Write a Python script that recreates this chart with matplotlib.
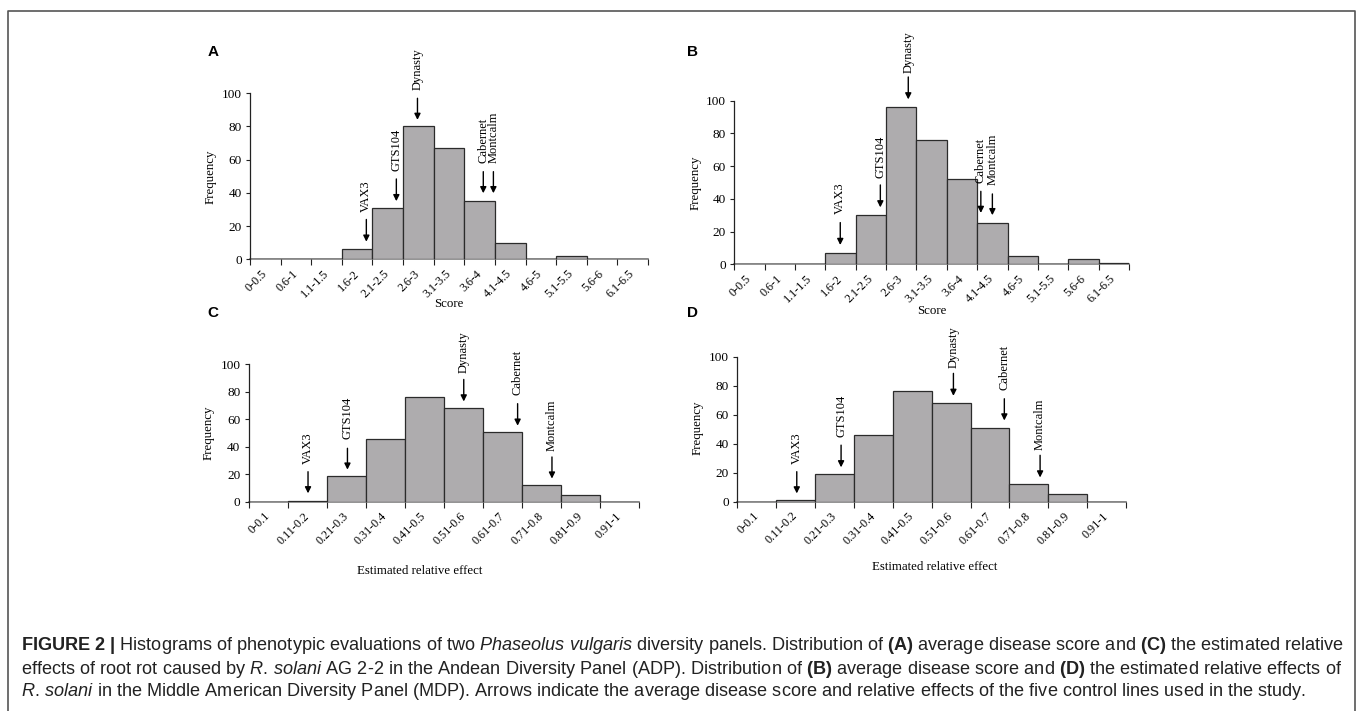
import numpy as np
import matplotlib
matplotlib.use("Agg")
import matplotlib.pyplot as plt

plt.rcParams['font.family'] = ['Liberation Serif', 'DejaVu Serif']
plt.rcParams['mathtext.fontset'] = 'custom'
plt.rcParams['mathtext.rm'] = 'Liberation Sans'
plt.rcParams['mathtext.it'] = 'Liberation Sans:italic'
plt.rcParams['mathtext.bf'] = 'Liberation Sans:bold'

# ---------------- data ----------------
score_bins = ["0-0.5", "0.6-1", "1.1-1.5", "1.6-2", "2.1-2.5", "2.6-3", "3.1-3.5",
              "3.6-4", "4.1-4.5", "4.6-5", "5.1-5.5", "5.6-6", "6.1-6.5"]
effect_bins = ["0-0.1", "0.11-0.2", "0.21-0.3", "0.31-0.4", "0.41-0.5", "0.51-0.6",
               "0.61-0.7", "0.71-0.8", "0.81-0.9", "0.91-1"]

freq_A = [0, 0, 0, 6, 31, 80, 67, 35, 10, 0, 2, 0, 0]
freq_B = [0, 0, 0, 7, 30, 96, 76, 52, 25, 5, 0, 3, 1]
freq_C = [0, 1, 19, 46, 76, 68, 51, 12, 5, 0]
freq_D = [0, 1, 19, 46, 76, 68, 51, 12, 5, 0]

controls = ["VAX3", "GTS104", "Dynasty", "Cabernet", "Montcalm"]
# control position on the bin axis, arrow tail, arrow tip, label bottom
ctrl_x_A = [3.80, 4.78, 5.47, 7.62, 7.95]
ctrl_tail_A = [24, 48.4, 97, 52.8, 52.8]
ctrl_tip_A = [10.6, 35, 84, 39.8, 39.8]
ctrl_lab_A = [28.7, 53, 102, 57.8, 57.8]

ctrl_x_B = [3.49, 4.81, 5.73, 8.12, 8.50]
ctrl_tail_B = [25.5, 48.5, 114.5, 44.6, 43]
ctrl_tip_B = [11.8, 34.8, 100.8, 31.4, 30]
ctrl_lab_B = [30.5, 53, 116.7, 49.9, 48.5]

ctrl_x_C = [1.52, 2.53, 5.51, 6.89, 7.77]
ctrl_tail_C = [22, 39, 89, 71.4, 32.7]
ctrl_tip_C = [6.3, 23.5, 73, 55.4, 17]
ctrl_lab_C = [27.6, 45.5, 94, 77.7, 37]

ctrl_x_D = [1.53, 2.67, 5.56, 6.87, 7.79]
ctrl_tail_D = [20.7, 39, 88.5, 71, 32]
ctrl_tip_D = [5.7, 23.7, 73, 56, 16.7]
ctrl_lab_D = [26, 44.4, 92.4, 77, 35.6]

yticks = [0, 20, 40, 60, 80, 100]

# ---------------- figure ----------------
W, H = 1358, 711
fig = plt.figure(figsize=(W / 100, H / 100), dpi=100)

def px_axes(l, r, b, t):
    return fig.add_axes([l / W, 1 - b / H, (r - l) / W, (b - t) / H])

def ftext(x, y, s, **kw):
    fig.text(x / W, 1 - y / H, s, **kw)

BAR_FC = "#aeacae"
BAR_EC = "#2b2b2b"

def panel(rect, labels, freqs, cx, ctail, ctip, clab, ylab_xy):
    ax = px_axes(*rect)
    n = len(labels)
    x = np.arange(n) + 0.5
    ax.bar(x, freqs, width=1.0, color=BAR_FC, edgecolor=BAR_EC, linewidth=0.9, zorder=2)
    ax.set_xlim(0, n)
    ax.set_ylim(0, 100)
    for s in ["top", "right"]:
        ax.spines[s].set_visible(False)
    ax.spines["left"].set_color("#222222")
    ax.spines["left"].set_linewidth(0.9)
    ax.spines["bottom"].set_color("#8a8a8a")
    ax.spines["bottom"].set_linewidth(1.3)
    ax.spines["bottom"].set_zorder(1)
    ax.set_yticks(yticks)
    ax.tick_params(axis="y", length=3, width=0.8, pad=3, labelsize=9.5, color="#222222")
    ax.set_xticks(x)
    ax.set_xticklabels(labels, rotation=45, ha="right", va="center",
                       rotation_mode="anchor", fontsize=8.7)
    ax.tick_params(axis="x", which="major", length=0, pad=9)
    ax.set_xticks(np.arange(n + 1), minor=True)
    ax.tick_params(axis="x", which="minor", length=4, width=0.8, color="#222222")
    ftext(ylab_xy[0], ylab_xy[1], "Frequency", rotation=90, ha="center", va="center",
          fontsize=9.3)
    for name, xx, ta, ti, lb in zip(controls, cx, ctail, ctip, clab):
        ax.annotate("", xy=(xx, ti), xytext=(xx, ta),
                    arrowprops=dict(arrowstyle="-|>", color="black", lw=1.0,
                                    mutation_scale=9, shrinkA=0, shrinkB=0),
                    annotation_clip=False, zorder=5)
        ax.text(xx, lb, name, rotation=90, ha="center", va="bottom",
                fontsize=9, clip_on=False, zorder=5)
    return ax

axA = panel((250, 648, 259.3, 93.3), score_bins, freq_A,
            ctrl_x_A, ctrl_tail_A, ctrl_tip_A, ctrl_lab_A, (211, 177))
axB = panel((734.3, 1129, 264.3, 100.7), score_bins, freq_B,
            ctrl_x_B, ctrl_tail_B, ctrl_tip_B, ctrl_lab_B, (696, 183))
axC = panel((248.7, 639, 502, 364.3), effect_bins, freq_C,
            ctrl_x_C, ctrl_tail_C, ctrl_tip_C, ctrl_lab_C, (209, 433))
axD = panel((737.3, 1126, 501.7, 356.7), effect_bins, freq_D,
            ctrl_x_D, ctrl_tail_D, ctrl_tip_D, ctrl_lab_D, (698, 428))

ftext(449, 304, "Score", ha="center", va="center", fontsize=9.3)
ftext(932, 311, "Score", ha="center", va="center", fontsize=9.3)
ftext(420, 570.7, "Estimated relative effect", ha="center", va="center", fontsize=9.3)
ftext(935, 566.7, "Estimated relative effect", ha="center", va="center", fontsize=9.3)

for lab, (x, y) in zip("ABCD", [(213, 52), (692, 52), (213, 313), (692, 313)]):
    ftext(x, y, lab, ha="center", va="center", fontsize=11, fontweight="bold",
          family="Liberation Sans")

# outer frame
fig.add_artist(plt.Line2D([8 / W, 8 / W, 1355 / W, 1355 / W], [0, 1 - 11 / H, 1 - 11 / H, 0],
                          color="#555555", lw=1.2))

cap_kw = dict(ha="left", va="center", fontsize=13.1, family="Liberation Sans", color="#222222")
ftext(21, 645, r"$\mathbf{FIGURE\ 2\ |}$ Histograms of phenotypic evaluations of two "
      r"$\mathit{Phaseolus\ vulgaris}$ diversity panels. Distribution of $\mathbf{(A)}$ "
      r"average disease score and $\mathbf{(C)}$ the estimated relative", **cap_kw)
ftext(21, 669, r"effects of root rot caused by $\mathit{R.\,solani}$ AG 2-2 in the Andean "
      r"Diversity Panel (ADP). Distribution of $\mathbf{(B)}$ average disease score and "
      r"$\mathbf{(D)}$ the estimated relative effects of", **cap_kw)
ftext(21, 692, r"$\mathit{R.\,solani}$ in the Middle American Diversity Panel (MDP). Arrows "
      r"indicate the average disease score and relative effects of the five control lines "
      r"used in the study.", **cap_kw)

fig.savefig("out.png", dpi=100)
